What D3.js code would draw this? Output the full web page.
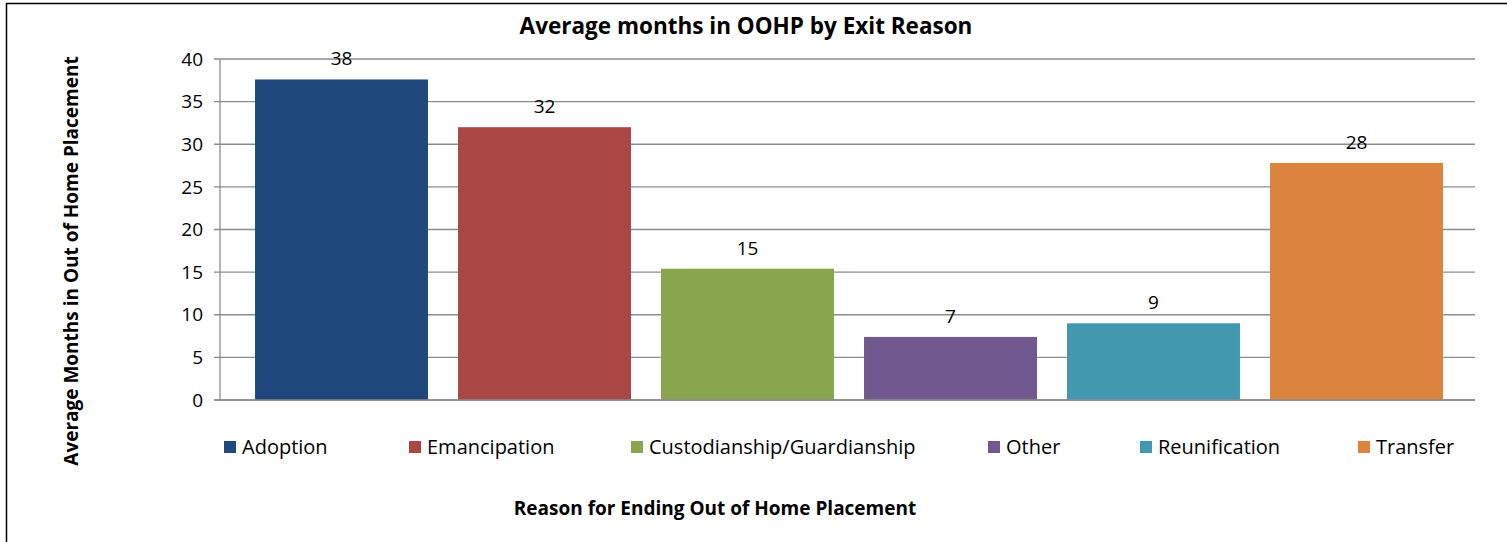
<!DOCTYPE html>
<html><head><meta charset="utf-8">
<script src="https://cdn.jsdelivr.net/npm/d3@7"></script>
<style>body{margin:0;background:#fff}svg{display:block}text{font-family:"Open Sans",sans-serif}</style>
</head><body>
<svg id="c" width="1507" height="542"></svg>
<script>
const categories = ["Adoption","Emancipation","Custodianship/Guardianship","Other","Reunification","Transfer"];
const values = [37.6, 32.0, 15.4, 7.4, 9.0, 27.8];
const labels = ["38","32","15","7","9","28"];
const colors = ["#1F497D","#AA4643","#89A54E","#71588F","#4198AF","#DB843D"];
const yTicks = [0,5,10,15,20,25,30,35,40];
const legendX = [224,409,631,988,1140,1358];

const svg = d3.select("#c");
svg.append("rect").attr("x",6.5).attr("y",3.5).attr("width",1510).attr("height",550)
  .attr("fill","#fff").attr("stroke","#000").attr("stroke-width",1.5);

const y = d3.scaleLinear().domain([0,40]).range([400,59]);
const x = d3.scaleBand().domain(categories).range([240,1458]).paddingInner(0.148).paddingOuter(0.074);

svg.append("g").selectAll("line").data(yTicks).join("line")
  .attr("x1",214).attr("x2",1475).attr("y1",d=>y(d)).attr("y2",d=>y(d))
  .attr("stroke","#8c8c8c").attr("stroke-width",1.3);
svg.append("line").attr("x1",220).attr("x2",220).attr("y1",59).attr("y2",400).attr("stroke","#8c8c8c").attr("stroke-width",1.3);

svg.append("g").selectAll("text").data(yTicks).join("text")
  .attr("x",203).attr("y",d=>y(d)).attr("dy","0.35em").attr("text-anchor","end")
  .attr("font-size",19).text(d=>d);

svg.append("g").selectAll("rect").data(categories).join("rect")
  .attr("x",d=>x(d)).attr("width",x.bandwidth())
  .attr("y",(d,i)=>y(values[i])).attr("height",(d,i)=>y(0)-y(values[i]))
  .attr("fill",(d,i)=>colors[i]);
svg.append("line").attr("x1",214).attr("x2",1475).attr("y1",400).attr("y2",400).attr("stroke","#8c8c8c").attr("stroke-width",1.3);

svg.append("g").selectAll("text").data(categories).join("text")
  .attr("x",d=>x(d)+x.bandwidth()/2).attr("y",(d,i)=>y(values[i])-14)
  .attr("text-anchor","middle").attr("font-size",19).text((d,i)=>labels[i]);

svg.append("text").attr("x",746).attr("y",34).attr("text-anchor","middle")
  .attr("font-size",22.5).attr("font-weight","bold").text("Average months in OOHP by Exit Reason");

svg.append("text").attr("transform","translate(78,261) rotate(-90)").attr("text-anchor","middle")
  .attr("font-size",19).attr("font-weight","bold").text("Average Months in Out of Home Placement");

svg.append("text").attr("x",715).attr("y",515).attr("text-anchor","middle")
  .attr("font-size",19).attr("font-weight","bold").text("Reason for Ending Out of Home Placement");

const lg = svg.append("g").selectAll("g").data(categories).join("g")
  .attr("transform",(d,i)=>`translate(${legendX[i]},441)`);
lg.append("rect").attr("width",12).attr("height",12).attr("fill",(d,i)=>colors[i]);
lg.append("text").attr("x",18).attr("y",6).attr("dy","0.35em").attr("font-size",20).text(d=>d);
</script>
</body></html>
